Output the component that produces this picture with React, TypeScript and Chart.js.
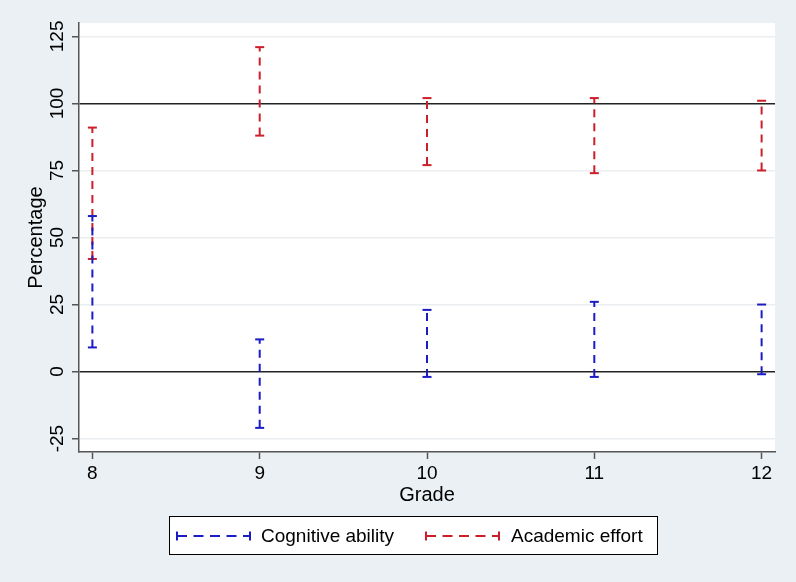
import React, { useEffect, useRef } from 'react';
import { Chart, registerables } from 'chart.js';

Chart.register(...registerables);

const grades = [8, 9, 10, 11, 12];
const cognitiveLow = [9, -21, -2, -2, -1];
const cognitiveHigh = [58, 12, 23, 26, 25];
const academicLow = [42, 88, 77, 74, 75];
const academicHigh = [91, 121, 102, 102, 101];
const yTicks = [-25, 0, 25, 50, 75, 100, 125];
const seriesNames = ['Cognitive ability', 'Academic effort'];
const seriesColors = ['#1c1cc4', '#cc1f2a'];

const FONT = "'Liberation Sans', Arial, Helvetica, sans-serif";
const FS = 19;
const TFS = 20;

function rangePoints(lows: number[], highs: number[]) {
  const pts: { x: number; y: number | null }[] = [];
  grades.forEach((g, i) => {
    pts.push({ x: g, y: lows[i] });
    pts.push({ x: g, y: highs[i] });
    pts.push({ x: g + 0.5, y: null });
  });
  return pts;
}

const bgPlugin = {
  id: 'bg',
  beforeDraw(chart: any) {
    const { ctx, chartArea } = chart;
    ctx.save();
    ctx.fillStyle = '#eaf0f3';
    ctx.fillRect(0, 0, chart.width, chart.height);
    ctx.fillStyle = '#ffffff';
    ctx.fillRect(chartArea.left, chartArea.top, chartArea.right - chartArea.left, chartArea.bottom - chartArea.top);
    ctx.restore();
  },
};

const yLabelPlugin = {
  id: 'ylabels',
  afterDraw(chart: any) {
    const { ctx } = chart;
    const ys = chart.scales.y;
    ctx.save();
    ctx.fillStyle = '#000';
    ctx.font = `${FS}px ${FONT}`;
    ctx.textAlign = 'center';
    ctx.textBaseline = 'alphabetic';
    yTicks.forEach((v) => {
      const py = ys.getPixelForValue(v);
      ctx.save();
      ctx.translate(63, py);
      ctx.rotate(-Math.PI / 2);
      ctx.fillText(String(v), 0, 0);
      ctx.restore();
    });
    ctx.restore();
  },
};

const legendPlugin = {
  id: 'customLegend',
  afterDraw(chart: any) {
    const { ctx } = chart;
    ctx.save();
    ctx.fillStyle = '#fff';
    ctx.fillRect(169.5, 516.5, 488, 38);
    ctx.strokeStyle = '#000';
    ctx.lineWidth = 1;
    ctx.strokeRect(169.5, 516.5, 488, 38);
    const cy = 536;
    const samples = [
      { x0: 177, x1: 250, tx: 261 },
      { x0: 426, x1: 499, tx: 511 },
    ];
    samples.forEach((s, i) => {
      ctx.strokeStyle = seriesColors[i];
      ctx.lineWidth = 2;
      ctx.setLineDash([10, 6.5]);
      ctx.beginPath();
      ctx.moveTo(s.x0, cy);
      ctx.lineTo(s.x1, cy);
      ctx.stroke();
      ctx.setLineDash([]);
      ctx.beginPath();
      ctx.moveTo(s.x0, cy - 4.5);
      ctx.lineTo(s.x0, cy + 4.5);
      ctx.moveTo(s.x1, cy - 4.5);
      ctx.lineTo(s.x1, cy + 4.5);
      ctx.stroke();
      ctx.fillStyle = '#000';
      ctx.font = `${FS}px ${FONT}`;
      ctx.textAlign = 'left';
      ctx.textBaseline = 'middle';
      ctx.fillText(seriesNames[i], s.tx, cy + 1);
    });
    ctx.restore();
  },
};

export default function App() {
  const ref = useRef<HTMLCanvasElement | null>(null);
  useEffect(() => {
    if (!ref.current) return;
    const mkDs = (label: string, lows: number[], highs: number[], color: string) => ({
      label,
      data: rangePoints(lows, highs),
      borderColor: color,
      backgroundColor: color,
      borderWidth: 2,
      borderDash: [8, 6],
      pointStyle: 'line',
      pointRadius: 4.5,
      pointBorderWidth: 2,
      pointBorderColor: color,
      pointHoverRadius: 4.5,
      spanGaps: false,
      tension: 0,
      fill: false,
    });
    const chart = new Chart(ref.current, {
      type: 'line',
      data: {
        datasets: [
          mkDs(seriesNames[0], cognitiveLow, cognitiveHigh, seriesColors[0]),
          mkDs(seriesNames[1], academicLow, academicHigh, seriesColors[1]),
        ] as any,
      },
      options: {
        responsive: false,
        animation: false,
        events: [],
        layout: { padding: { left: 0, top: 23, right: 21, bottom: 70 } },
        plugins: { legend: { display: false }, tooltip: { enabled: false } },
        scales: {
          x: {
            type: 'linear',
            min: 7.92,
            max: 12.08,
            afterBuildTicks: (s: any) => {
              s.ticks = grades.map((v) => ({ value: v }));
            },
            afterFit: (s: any) => {
              s.height = 60;
            },
            grid: { drawOnChartArea: false, drawTicks: true, tickLength: 7, tickColor: '#555', tickWidth: 1.5 },
            border: { display: true, color: '#555', width: 1.5 },
            ticks: {
              color: '#000',
              font: { family: FONT, size: FS },
              padding: 3,
              autoSkip: false,
              maxRotation: 0,
              callback: (v: any) => String(v),
            },
            title: {
              display: true,
              text: 'Grade',
              color: '#000',
              font: { family: FONT, size: TFS },
              padding: { top: 0, bottom: 5 },
            },
          },
          y: {
            type: 'linear',
            min: -30,
            max: 130,
            afterBuildTicks: (s: any) => {
              s.ticks = yTicks.map((v) => ({ value: v }));
            },
            afterFit: (s: any) => {
              s.width = 79;
            },
            grid: {
              drawTicks: true,
              tickLength: 7,
              tickColor: '#555',
              tickWidth: 1.5,
              color: (c: any) => (c.tick && (c.tick.value === 0 || c.tick.value === 100) ? '#222' : '#eaeef0'),
              lineWidth: 1.5,
            },
            border: { display: true, color: '#555', width: 1.5 },
            ticks: { display: false },
            title: {
              display: true,
              text: 'Percentage',
              color: '#000',
              font: { family: FONT, size: TFS },
              padding: { top: 24, bottom: 0 },
            },
          },
        },
      } as any,
      plugins: [bgPlugin, yLabelPlugin, legendPlugin],
    });
    return () => chart.destroy();
  }, []);
  return (
    <div style={{ position: 'fixed', left: 0, top: 0, width: 796, height: 582 }}>
      <canvas ref={ref} width={796} height={582} style={{ width: 796, height: 582, display: 'block' }} />
    </div>
  );
}
